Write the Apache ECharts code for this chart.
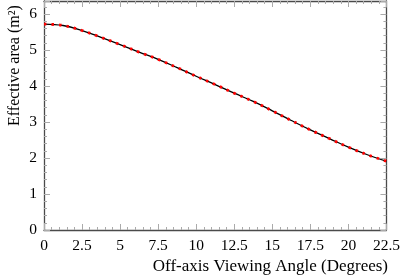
<!DOCTYPE html>
<html><head><meta charset="utf-8">
<script src="https://cdn.jsdelivr.net/npm/echarts@6/dist/echarts.min.js"></script>
<style>html,body{margin:0;padding:0;background:#fff}#c{width:403px;height:278px}</style>
</head><body><div id="c"></div>
<script>
var angles = [0, 1.25, 2.5, 3.75, 5, 6.25, 7.5, 8.75, 10, 11.25, 12.5, 13.75, 15, 16.25, 17.5, 18.75, 20, 21.25, 22.5];
var effArea = [5.72, 5.68, 5.54, 5.35, 5.15, 4.94, 4.74, 4.51, 4.27, 4.04, 3.80, 3.57, 3.31, 3.04, 2.78, 2.54, 2.30, 2.09, 1.91];
var xTitle = 'Off-axis Viewing Angle (Degrees)';
var yTitle = 'Effective area (m\u00B2)';
var pts = angles.map(function(a, i){ return [a, effArea[i]]; });
var font = 'Liberation Serif';
var chart = echarts.init(document.getElementById('c'), null, {renderer:'canvas'});
var tickCol = '#aaaaaa', frameCol = '#4a4a4a';
function xAx(pos, labels){
  return {type:'value', position:pos, min:0, max:22.5, interval:2.5,
    axisLine:{show:true, onZero:false, lineStyle:{color:frameCol, width:1.3}},
    axisTick:{show:true, inside:true, length:6, lineStyle:{color:tickCol}},
    minorTick:{show:true, splitNumber:5, length:3, lineStyle:{color:tickCol}},
    axisLabel:{show:labels, fontFamily:font, fontSize:15.5, color:'#000', margin:8,
      formatter:function(v){return String(v);}},
    splitLine:{show:false}};
}
function yAx(pos, labels){
  return {type:'value', position:pos, min:0, max:6.36, interval:1,
    axisLine:{show:true, onZero:false, lineStyle:{color:frameCol, width:1.3}},
    axisTick:{show:true, inside:true, length:6, lineStyle:{color:tickCol}},
    minorTick:{show:true, splitNumber:5, length:3, lineStyle:{color:tickCol}},
    axisLabel:{show:labels, fontFamily:font, fontSize:15.5, color:'#000', margin:7, showMaxLabel:false},
    splitLine:{show:false}};
}
chart.setOption({
  animation:false,
  grid:{left:44, right:15, top:1, bottom:48},
  xAxis:[xAx('bottom', true), xAx('top', false)],
  yAxis:[yAx('left', true), yAx('right', false)],
  graphic:[
    {type:'text', x:15, y:126, rotation:Math.PI/2,
      style:{text:yTitle, font:'16px "Liberation Serif"', fill:'#000', align:'left', verticalAlign:'middle'}},
    {type:'text', x:388, y:267,
      style:{text:xTitle, font:'17px "Liberation Serif"', fill:'#000', align:'right', verticalAlign:'middle'}}
  ],
  series:[
    {type:'line', data:pts, smooth:0.4, symbol:'none', lineStyle:{color:'#000', width:1.3}, z:2},
    {type:'line', data:pts, smooth:0.4, symbol:'none', lineStyle:{color:'#ff0000', width:2.8, type:[2.5,5]}, z:3}
  ]
});
</script></body></html>
